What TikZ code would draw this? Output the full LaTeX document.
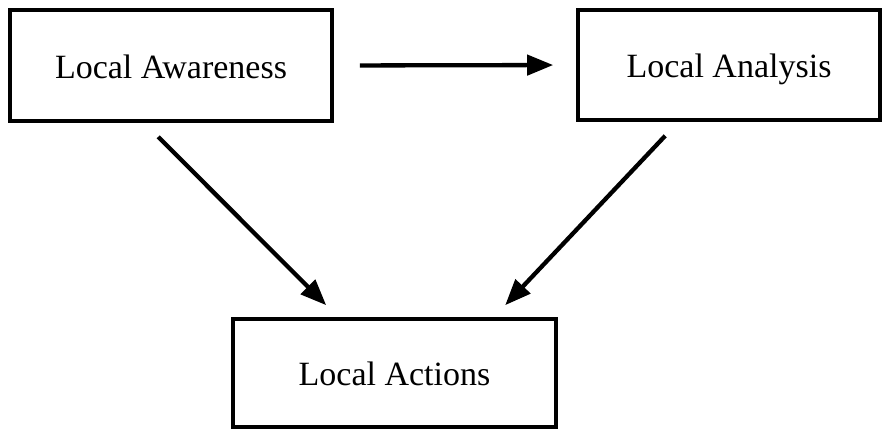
\documentclass[tikz,border=0pt]{standalone}
\usepackage{fontspec}
\setmainfont{Liberation Serif}
\usetikzlibrary{arrows.meta,calc}
\begin{document}
\begin{tikzpicture}[x=1pt,y=-1pt,
  box/.style={draw=black,line width=3.6pt,rectangle,inner sep=0pt,
    text height=25.5pt,text depth=0pt,
    font=\fontsize{34}{40}\selectfont},
  arr/.style={line width=4.3pt,-{Triangle[length=26pt,width=20pt]}}]
  \useasboundingbox (0,0) rectangle (890,430);
  \node[box,minimum width=322pt,minimum height=111pt] (aw) at (171,65.5) {Local Awareness};
  \node[box,minimum width=302pt,minimum height=110pt] (an) at (729,65) {Local Analysis};
  \node[box,minimum width=323pt,minimum height=108pt] (ac) at (394.5,373) {Local Actions};
  \coordinate (s1) at ($(aw.south west)+(150,14)$);
  \coordinate (t1) at ($(ac.north west)+(95,-12)$);
  \coordinate (s2) at ($(an.south west)+(89,14)$);
  \coordinate (t2) at ($(ac.north west)+(274,-12)$);
  \draw[arr,shorten <=26pt,shorten >=23pt] (aw.east) -- (an.west);
  \draw[arr] (s1) -- (t1);
  \draw[arr] (s2) -- (t2);
\end{tikzpicture}
\end{document}
